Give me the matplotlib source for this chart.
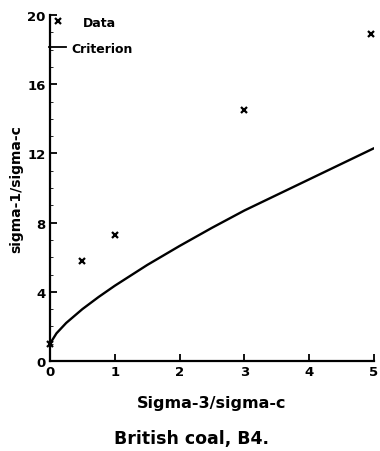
import matplotlib
matplotlib.use("Agg")
import matplotlib.pyplot as plt

plt.rcParams['font.family'] = ['DejaVu Sans']
plt.rcParams['font.weight'] = 'bold'

# measured strength ratios
data_s3 = [0.0, 0.5, 1.0, 3.0, 4.95]
data_s1 = [1.0, 5.8, 7.3, 14.5, 18.9]

# failure criterion curve
crit_s3 = [0.0, 0.1, 0.25, 0.5, 0.75, 1.0, 1.5, 2.0, 2.5, 3.0, 3.5, 4.0, 4.5, 5.0]
crit_s1 = [1.0, 1.6, 2.2, 3.0, 3.7, 4.35, 5.55, 6.65, 7.7, 8.7, 9.6, 10.5, 11.4, 12.3]

fig = plt.figure(figsize=(3.8, 4.52), dpi=100)
ax = fig.add_axes([50/380, 1 - 362/452, 324/380, 346/452])

ax.plot(crit_s3, crit_s1, color='black', lw=1.7, solid_capstyle='round')
ax.plot(data_s3, data_s1, ls='none', marker='x', ms=5, mew=1.6, color='black',
        clip_on=False)

ax.set_xlim(0, 5)
ax.set_ylim(0, 20)
ax.set_xticks([0, 1, 2, 3, 4, 5])
ax.set_yticks([0, 4, 8, 12, 16, 20])
ax.set_yticks(range(0, 21), minor=True)
ax.tick_params(which='major', direction='in', length=5, width=1.3, labelsize=9.5, pad=3)
ax.tick_params(which='minor', direction='in', length=2, width=0.6)
ax.tick_params(axis='x', which='minor', bottom=False)
for lab in ax.get_xticklabels() + ax.get_yticklabels():
    lab.set_fontweight('bold')

for s in ('top', 'right'):
    ax.spines[s].set_visible(False)
for s in ('left', 'bottom'):
    ax.spines[s].set_linewidth(1.6)

ax.set_xlabel('Sigma-3/sigma-c', fontsize=11.5, fontweight='bold', labelpad=12)
ax.set_ylabel('sigma-1/sigma-c', fontsize=10, fontweight='bold', labelpad=3)

# key in the top-left corner
ax.plot([0.025], [0.983], ls='none', marker='x', ms=5, mew=1.6, color='black',
        transform=ax.transAxes, clip_on=False)
ax.text(0.102, 0.977, 'Data', transform=ax.transAxes, ha='left', va='center',
        fontsize=9, fontweight='bold')
ax.plot([-0.003, 0.049], [0.9075, 0.9075], color='black', lw=1.3,
        transform=ax.transAxes, clip_on=False)
ax.text(0.065, 0.902, 'Criterion', transform=ax.transAxes, ha='left', va='center',
        fontsize=9, fontweight='bold')

fig.text(192/380, 1 - 439/452, 'British coal, B4.', ha='center',
         va='center', fontsize=12.5, fontweight='bold')

fig.savefig('out.png', dpi=100)
